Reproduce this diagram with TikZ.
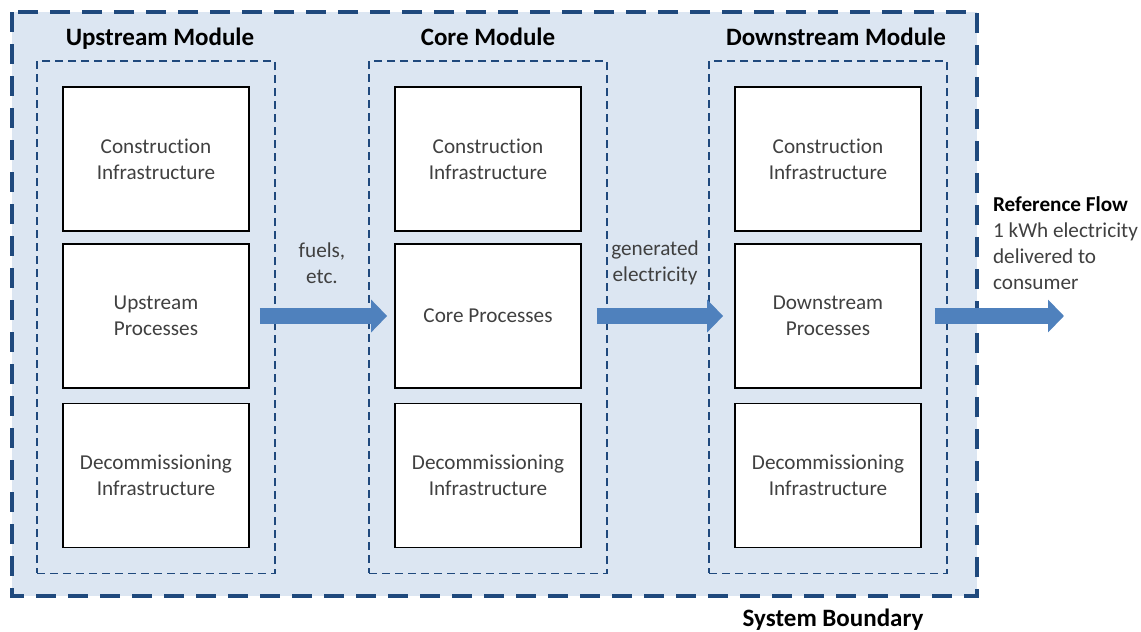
\documentclass[tikz,border=0pt]{standalone}
\usepackage{fontspec}
\setmainfont[Ligatures=NoCommon]{Carlito}
\usetikzlibrary{arrows.meta,calc,positioning,fit}
\definecolor{bnd}{HTML}{1F497D}
\definecolor{paleblue}{HTML}{DCE6F2}
\definecolor{flowblue}{HTML}{4F81BD}
\definecolor{bodytext}{HTML}{404040}
\begin{document}
\begin{tikzpicture}[x=.5pt,y=-.5pt,every node/.style={font=\fontsize{10.6}{13}\selectfont,align=center,text=bodytext},procbox/.style={draw=black,line width=.9pt,fill=white,minimum width=93pt,minimum height=72pt,inner sep=0pt},modbox/.style={draw=bnd,line width=.9pt,dash pattern=on 4pt off 2.5pt,inner sep=12.5pt},title/.style={font=\fontsize{12.5}{15}\selectfont\bfseries,text=black,text height=9pt,text depth=2.5pt},sysline/.style={draw=bnd,fill=paleblue,line width=2pt,dash pattern=on 10pt off 6pt},flow/.style={flowblue,line width=8pt,-{Triangle[length=8pt,width=16pt]}}]
\useasboundingbox (0,0) rectangle (1141,632);
\draw[sysline] (12,12) rectangle (977,596);
\node[procbox] (u1) at (156,159) {Construction\\Infrastructure};\node[procbox] (u2) at (156,316) {Upstream\\Processes};\node[procbox] (u3) at (156,475.5) {Decommissioning\\Infrastructure};
\node[procbox] (c1) at (488,159) {Construction\\Infrastructure};\node[procbox] (c2) at (488,316) {Core Processes};\node[procbox] (c3) at (488,475.5) {Decommissioning\\Infrastructure};
\node[procbox] (d1) at (828,159) {Construction\\Infrastructure};\node[procbox] (d2) at (828,316) {Downstream\\Processes};\node[procbox] (d3) at (828,475.5) {Decommissioning\\Infrastructure};
\node[modbox,fit=(u1)(u3)] (um) {};\node[modbox,fit=(c1)(c3)] (cm) {};\node[modbox,fit=(d1)(d3)] (dm) {};
\node[title,above=1.5pt of um,xshift=2pt] {Upstream Module};\node[title,above=1.5pt of cm] {Core Module};\node[title,above=1.5pt of dm,xshift=4pt] {Downstream Module};
\draw[flow] ($(u2.east)+(10,0)$) -- ($(c2.west)+(-7,0)$);\node (fuel) at (322,263) {fuels,\\etc.};
\draw[flow] ($(c2.east)+(15,0)$) -- ($(d2.west)+(-11,0)$);\node (gen) at (655,263) {generated\\electricity};
\coordinate (rf) at (1064,316);\draw[flow] ($(d2.east)+(13,0)$) -- (rf);
\node[align=left,anchor=west] (ref) at (986,243) {{\color{black}\bfseries Reference Flow}\\1 kWh electricity\\delivered to\\consumer};
\node[title] (sb) at (833,620) {System Boundary};
\end{tikzpicture}
\end{document}
